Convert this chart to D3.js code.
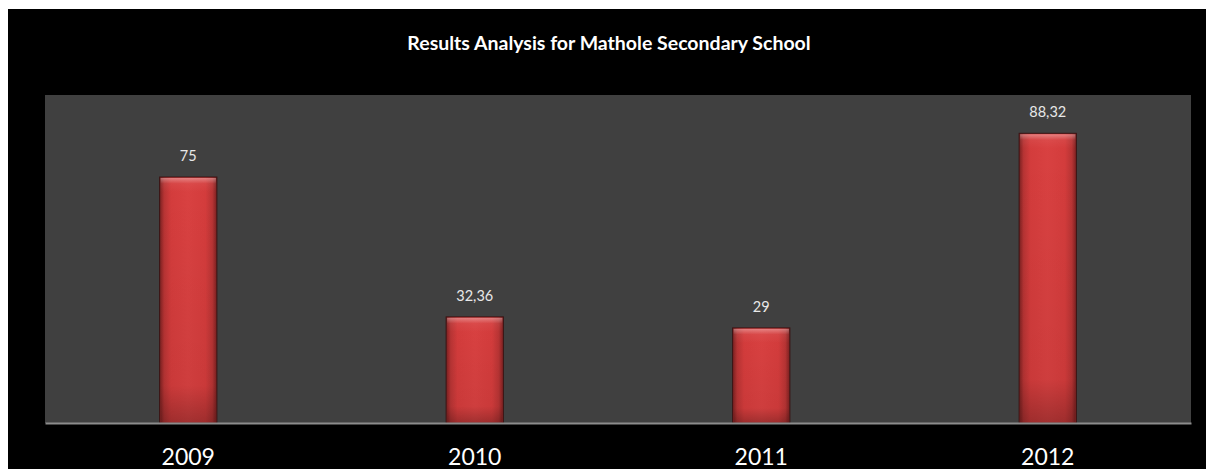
<!DOCTYPE html>
<html><head><meta charset="utf-8">
<script src="https://cdn.jsdelivr.net/npm/d3@7"></script>
<style>html,body{margin:0;padding:0;background:#fff;}svg{display:block;}</style>
</head><body>
<svg id="chart" width="1206" height="469"></svg>
<script>
const categories = ["2009", "2010", "2011", "2012"];
const values = [75, 32.36, 29, 88.32];
const valueLabels = ["75", "32,36", "29", "88,32"];
const chartTitle = "Results Analysis for Mathole Secondary School";

const svg = d3.select("#chart");
const W = 1206, H = 469;
const plot = {left: 45, right: 1191, top: 95, bottom: 423};

svg.append("rect").attr("x", 8).attr("y", 9).attr("width", W - 8).attr("height", H - 9).attr("fill", "#000");
svg.append("rect").attr("x", plot.left).attr("y", plot.top)
  .attr("width", plot.right - plot.left).attr("height", plot.bottom - plot.top).attr("fill", "#404040");

const defs = svg.append("defs");
const hg = defs.append("linearGradient").attr("id", "hgrad").attr("x1", 0).attr("x2", 1).attr("y1", 0).attr("y2", 0);
[[0, "#7a2020"], [0.08, "#b83434"], [0.2, "#d43c3c"], [0.5, "#d94141"], [0.8, "#d43c3c"], [0.92, "#b83434"], [1, "#7a2020"]]
  .forEach(([o, c]) => hg.append("stop").attr("offset", o).attr("stop-color", c));
const vg = defs.append("linearGradient").attr("id", "vgrad").attr("x1", 0).attr("x2", 0).attr("y1", 0).attr("y2", 1);
[[0, "#ffffff", 0.35], [0.4, "#ffffff", 0.05], [1, "#ffffff", 0]]
  .forEach(([o, c, a]) => vg.append("stop").attr("offset", o).attr("stop-color", c).attr("stop-opacity", a));
const bg = defs.append("linearGradient").attr("id", "bgrad").attr("x1", 0).attr("x2", 0).attr("y1", 0).attr("y2", 1);
[[0, "#000", 0], [0.85, "#000", 0.05], [1, "#000", 0.25]]
  .forEach(([o, c, a]) => bg.append("stop").attr("offset", o).attr("stop-color", c).attr("stop-opacity", a));

const x = d3.scaleBand().domain(categories).range([plot.left, plot.right]).paddingInner(0.8).paddingOuter(0.4);
const y = d3.scaleLinear().domain([0, 100]).range([plot.bottom, plot.top]);

const g = svg.append("g");
const bars = g.selectAll("g.bar").data(categories).join("g").attr("class", "bar");
bars.append("rect")
  .attr("x", d => x(d)).attr("y", (d, i) => y(values[i]))
  .attr("width", x.bandwidth()).attr("height", (d, i) => y(0) - y(values[i]))
  .attr("fill", "url(#hgrad)").attr("stroke", "#3a1414").attr("stroke-width", 1);
bars.append("rect")
  .attr("x", d => x(d) + 1).attr("y", (d, i) => y(values[i]) + 1)
  .attr("width", x.bandwidth() - 2).attr("height", (d, i) => Math.min(14, y(0) - y(values[i]) - 2))
  .attr("fill", "url(#vgrad)");
bars.append("rect")
  .attr("x", d => x(d) + 1).attr("y", (d, i) => y(values[i]) + 1)
  .attr("width", x.bandwidth() - 2).attr("height", (d, i) => y(0) - y(values[i]) - 2)
  .attr("fill", "url(#bgrad)");

g.selectAll("text.val").data(categories).join("text").attr("class", "val")
  .attr("x", d => x(d) + x.bandwidth() / 2).attr("y", (d, i) => y(values[i]) - 16)
  .attr("text-anchor", "middle").attr("fill", "#e8e8e8")
  .attr("font-family", "Lato, 'Open Sans', sans-serif").attr("font-size", 14.5)
  .text((d, i) => valueLabels[i]);

const axis = d3.axisBottom(x).tickSize(0).tickPadding(0);
const ax = svg.append("g").attr("transform", `translate(0,${plot.bottom})`).call(axis);
ax.select(".domain").attr("stroke", "#8c8c8c").attr("stroke-width", 2);
ax.selectAll(".tick text").attr("fill", "#fff").attr("dy", null).attr("y", 42)
  .attr("font-family", "Lato, 'Open Sans', sans-serif").attr("font-size", 23);

svg.append("text").attr("x", 609).attr("y", 50).attr("text-anchor", "middle")
  .attr("fill", "#fff").attr("font-family", "Lato, 'Open Sans', sans-serif")
  .attr("font-weight", "bold").attr("font-size", 19.5).text(chartTitle);
</script>
</body></html>
